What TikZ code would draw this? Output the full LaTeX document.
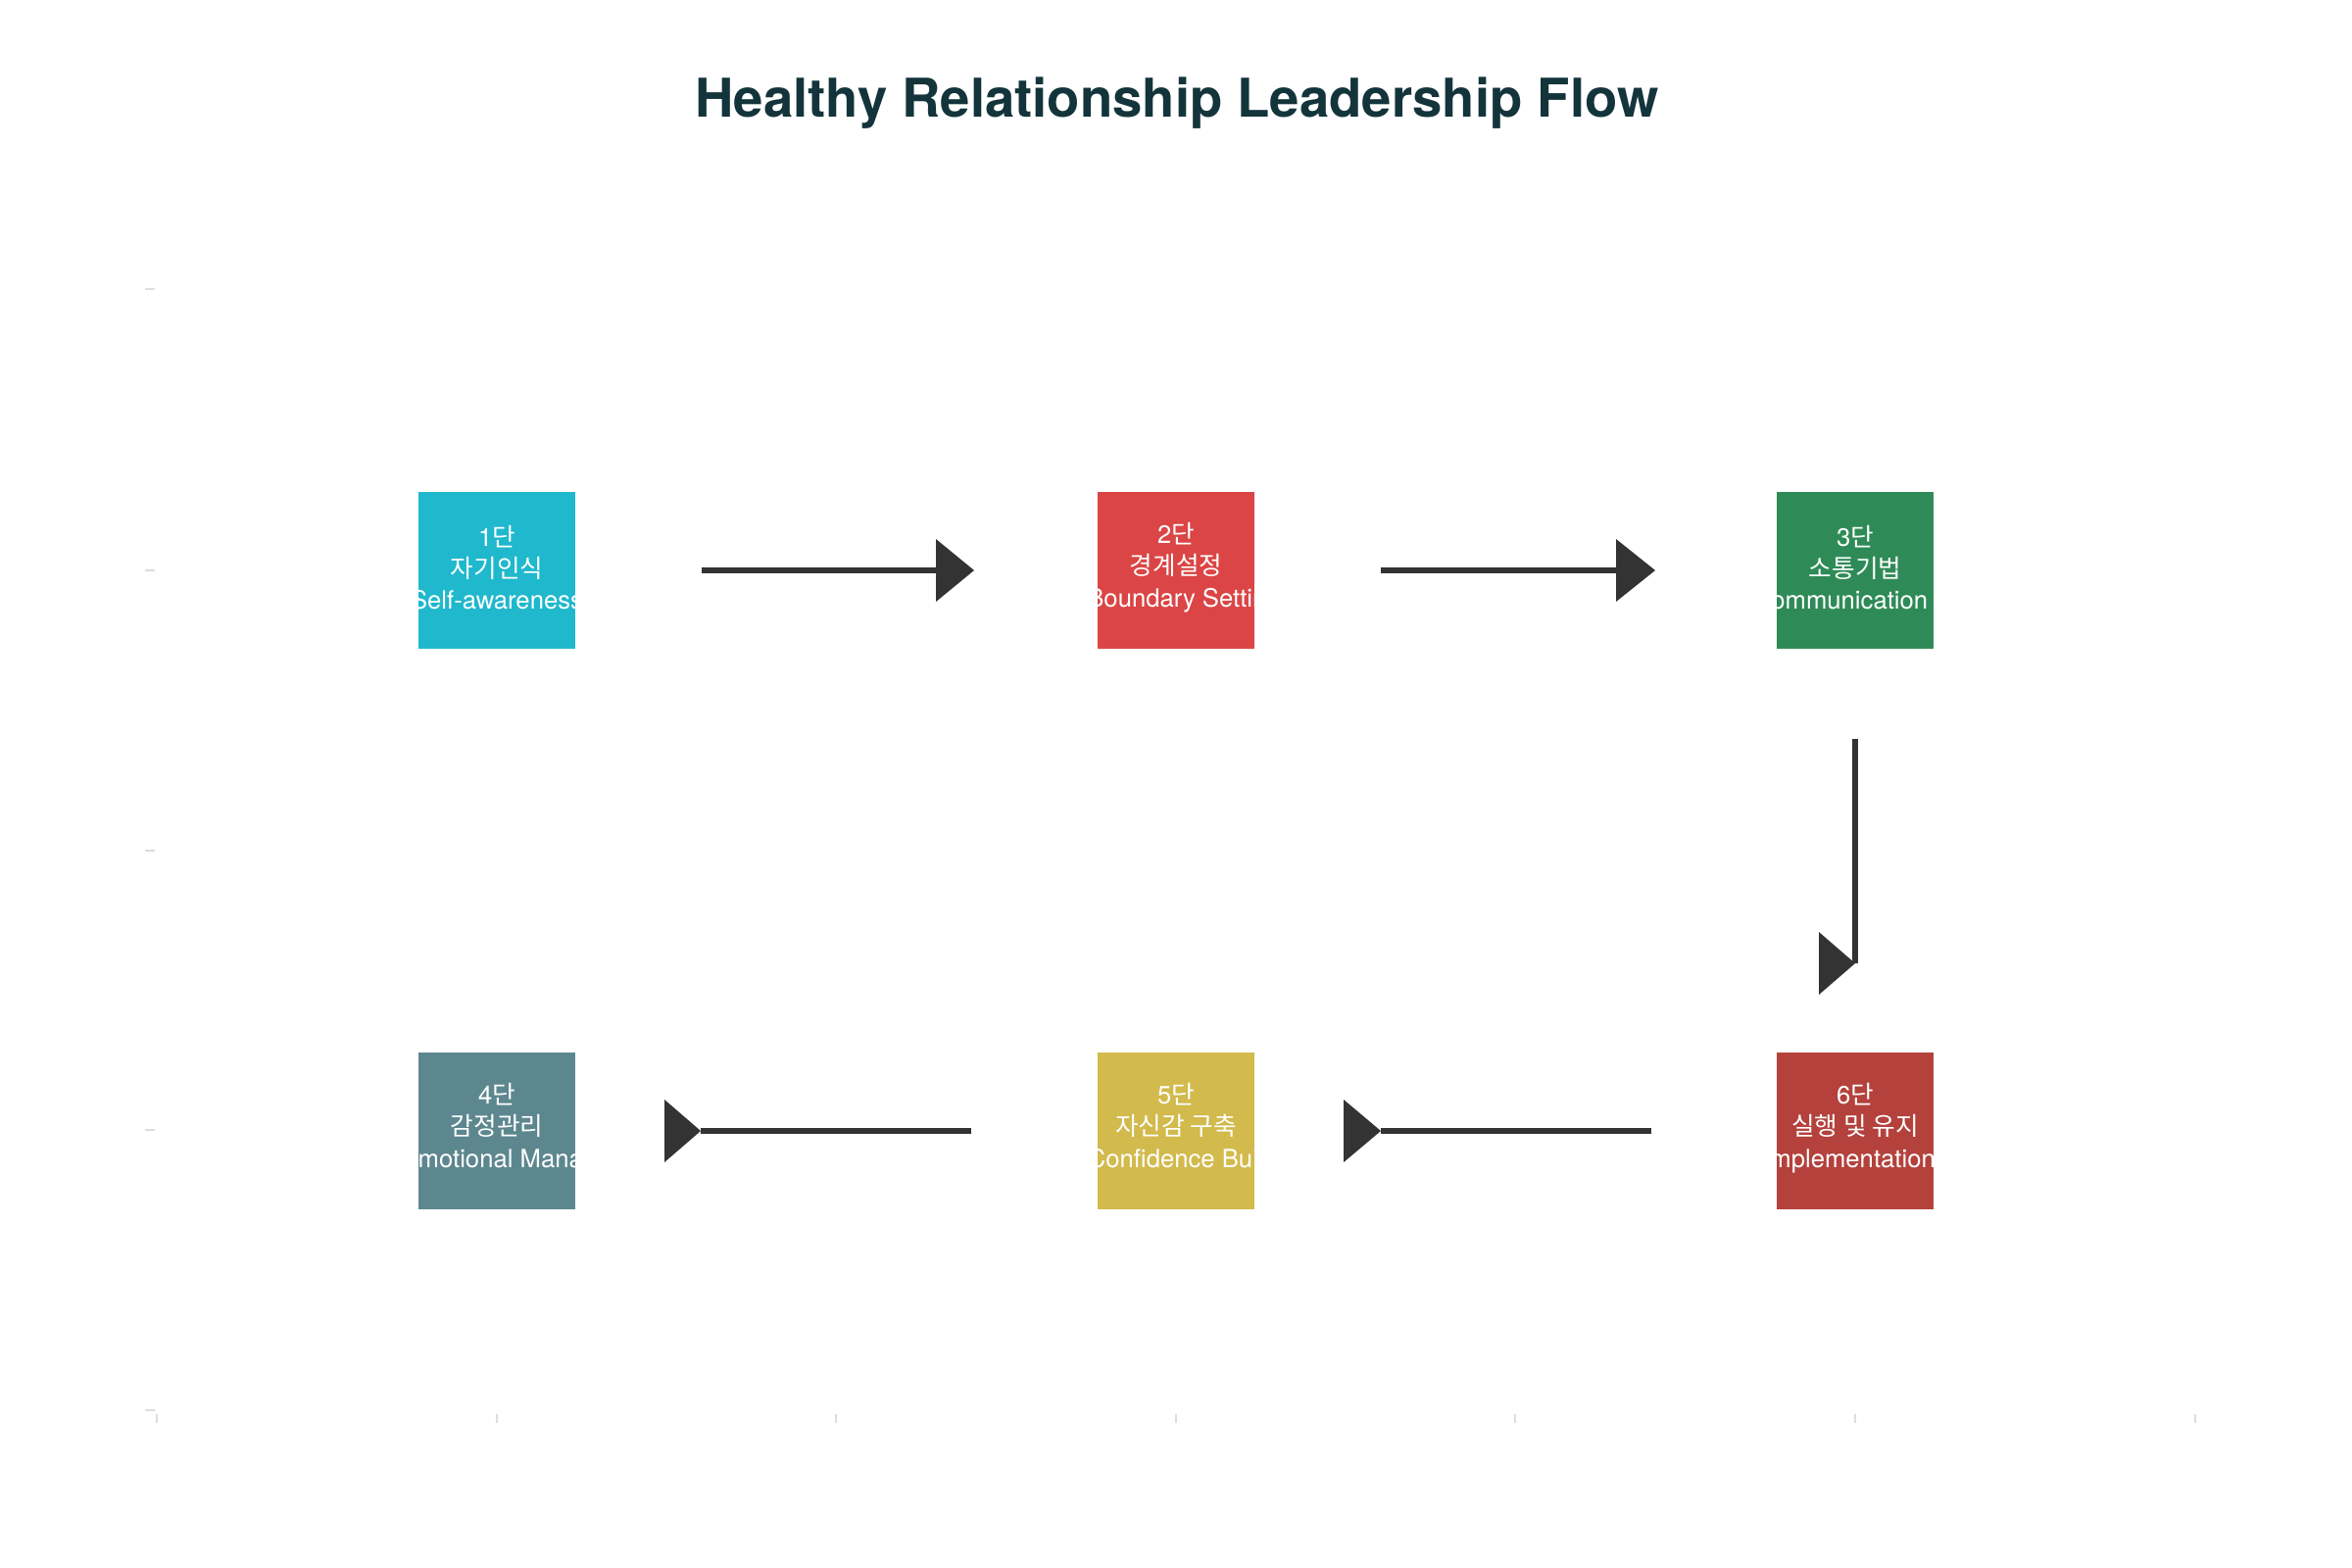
\documentclass[tikz,border=0pt]{standalone}
\usepackage{fontspec}
\setmainfont{TeX Gyre Heros}
\newfontfamily\kr{Noto Sans CJK KR}
\usetikzlibrary{calc}

\definecolor{stageA}{HTML}{1FB8CD}
\definecolor{stageB}{HTML}{DB4545}
\definecolor{stageC}{HTML}{2E8B57}
\definecolor{stageD}{HTML}{5D878F}
\definecolor{stageE}{HTML}{D2BA4C}
\definecolor{stageF}{HTML}{B4413C}
\definecolor{titlec}{HTML}{13343B}
\definecolor{arrowc}{HTML}{333333}
\definecolor{tickc}{HTML}{E1DCD7}

\begin{document}
\begin{tikzpicture}[x=0.01cm,y=-0.01cm]
       \tikzset{stage/.style={rectangle, minimum width=1.6cm, minimum height=1.6cm, inner sep=0pt}}

       \tikzset{stagetext/.style={text=white, align=center, inner sep=0pt,
                font=\fontsize{7.3}{9.2}\selectfont}}

       \tikzset{heading/.style={text=titlec, font=\fontsize{15.5}{18}\selectfont\bfseries}}

       \tikzset{flow/.style={draw=arrowc, line width=0.06cm}}

       \tikzset{axistick/.style={draw=tickc, line width=0.02cm}}

        \useasboundingbox (0,0) rectangle (2400,1600);
        \fill[white] (0,0) rectangle (2400,1600);

        \node[heading] (title) at (1201,105) {Healthy Relationship Leadership Flow};

        % axis ticks
        \foreach \ty in {295,582,868,1153,1439}
            \draw[axistick] (148,\ty) -- (158,\ty);
        \foreach \tx in {160,507,853,1200,1546,1893,2240}
            \draw[axistick] (\tx,1443) -- (\tx,1452);

        \foreach \i/\x/\y/\col/\ko/\en/\dx in {
            1/507/582/stageA/자기인식/Self-awareness/0,
            2/1200/582/stageB/경계설정/Boundary Setting/8,
            3/1893/582/stageC/소통기법/Communication/-15,
            4/507/1154/stageD/감정관리/Emotional Management/38,
            5/1200/1154/stageE/자신감 구축/Confidence Building/24,
            6/1893/1154/stageF/실행 및 유지/Implementation/-6}{
            \node[stage, fill=\col] (s\i) at (\x,\y) {};
            \pgfmathsetlengthmacro\enshift{0.02cm*\dx}
            \begin{scope}
                \clip (s\i.south west) rectangle (s\i.north east);
                \node[stagetext] (txt\i) at ([yshift=0.03cm]s\i.center)
                    {\i{\kr 단}\\{\kr\ko}\\\makebox[0pt]{\hspace*{\enshift}\en}};
            \end{scope}
        }

        \coordinate (tip12) at (994,582);
        \coordinate (tip23) at (1689,582);
        \coordinate (tip36) at (1893,983);
        \coordinate (tip65) at (1409,1154);
        \coordinate (tip54) at (715,1154);

        \draw[flow, shorten <=1.28cm, shorten >=0.39cm] (s1) -- (tip12);
        \fill[arrowc] (tip12) -- ++(-39,-32) -- ++(0,64) -- cycle;
        \draw[flow, shorten <=1.28cm, shorten >=0.40cm] (s2) -- (tip23);
        \fill[arrowc] (tip23) -- ++(-40,-32) -- ++(0,64) -- cycle;
        \draw[flow, shorten <=0.91cm] (s3) -- (tip36);
        \fill[arrowc] (tip36) -- ++(-37,-32) -- ++(0,64) -- cycle;
        \draw[flow, shorten <=1.27cm] (s6) -- (tip65);
        \fill[arrowc] (tip65) -- ++(-38,-32) -- ++(0,64) -- cycle;
        \draw[flow, shorten <=1.28cm] (s5) -- (tip54);
        \fill[arrowc] (tip54) -- ++(-37,-32) -- ++(0,64) -- cycle;

   \end{tikzpicture}
\end{document}
